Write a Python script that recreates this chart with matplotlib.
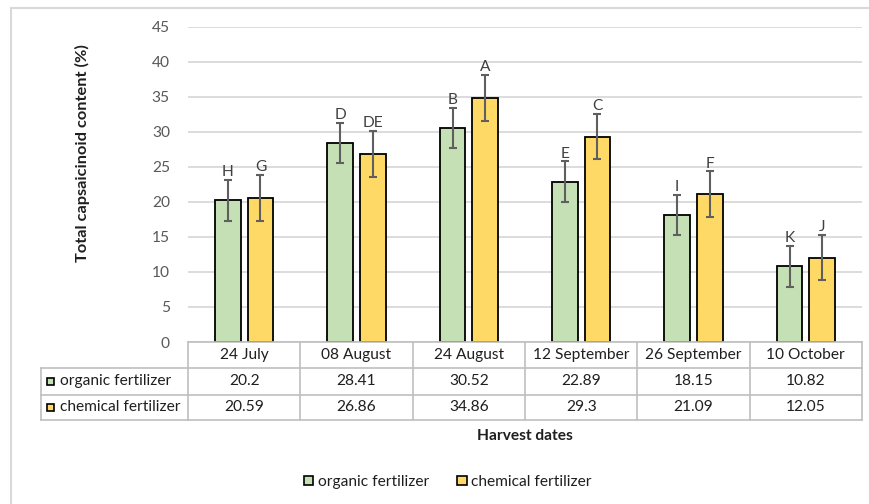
import matplotlib
matplotlib.use("Agg")
import matplotlib.pyplot as plt
from matplotlib.patches import Patch, Rectangle
from matplotlib.lines import Line2D
from matplotlib.transforms import blended_transform_factory

plt.rcParams['font.family'] = ['Lato', 'DejaVu Sans']

# Data
harvest_dates = ["24 July", "08 August", "24 August", "12 September", "26 September", "10 October"]
series_names = ["organic fertilizer", "chemical fertilizer"]
organic = [20.2, 28.41, 30.52, 22.89, 18.15, 10.82]
chemical = [20.59, 26.86, 34.86, 29.3, 21.09, 12.05]
organic_err = [2.9, 2.9, 2.9, 2.9, 2.9, 2.9]
chemical_err = [3.25, 3.25, 3.25, 3.25, 3.25, 3.25]
organic_letters = ["H", "D", "B", "E", "I", "K"]
chemical_letters = ["G", "DE", "A", "C", "F", "J"]
y_ticks = [0, 5, 10, 15, 20, 25, 30, 35, 40, 45]

green = "#C5E0B4"
yellow = "#FFD966"
grid_c = "#D9D9D9"
table_c = "#BFBFBF"
tick_c = "#595959"
text_c = "#1F1F1F"
fs = 11.2

W, H = 870, 504
fig = plt.figure(figsize=(W / 100, H / 100), dpi=100)

def fx(x):
    return x / W

def fy(y):
    return 1 - y / H

ax_left, ax_right, ax_top, ax_bottom = 188, 862, 26.7, 342
ax = fig.add_axes([fx(ax_left), fy(ax_bottom), fx(ax_right - ax_left), (ax_bottom - ax_top) / H])

x = list(range(len(harvest_dates)))
bw = 0.23
off = 0.145
xo = [i - off for i in x]
xc = [i + off for i in x]

ekw = dict(ecolor="#5F5F5F", elinewidth=1.5, capsize=2.7, capthick=1.5, zorder=4)
ax.bar(xo, organic, bw, color=green, edgecolor="black", linewidth=1.3,
       yerr=organic_err, error_kw=ekw, zorder=3)
ax.bar(xc, chemical, bw, color=yellow, edgecolor="black", linewidth=1.3,
       yerr=chemical_err, error_kw=ekw, zorder=3)

for xs, vals, errs, letters in [(xo, organic, organic_err, organic_letters),
                                 (xc, chemical, chemical_err, chemical_letters)]:
    for xi, v, e, t in zip(xs, vals, errs, letters):
        ax.annotate(t, (xi, v + e), xytext=(0, 0.5), textcoords="offset points",
                    ha="center", va="bottom", fontsize=fs, color="#404040", zorder=5)

ax.set_xlim(-0.5, len(harvest_dates) - 0.5)
ax.set_ylim(0, 45)
ax.set_yticks(y_ticks)
ax.set_xticks([])
ax.yaxis.grid(True, color=grid_c, linewidth=1.3)
ax.set_axisbelow(True)
for s in ax.spines.values():
    s.set_visible(False)
ax.tick_params(axis="y", length=0, pad=13, labelsize=fs, labelcolor=tick_c)

fig.text(fx(82), fy(153), "Total capsaicinoid content (%)", rotation=90,
         ha="center", va="center", fontsize=11.8, fontweight="bold", color=text_c)

# Data table under the plot
tr = blended_transform_factory(ax.transData, fig.transFigure)
row_y = [342, 368, 394.5, 420]
x0, x1 = -0.5, len(harvest_dates) - 0.5
label_left = 40.7

def hline(y, xa, xb, transform):
    fig.add_artist(Line2D([xa, xb], [fy(y), fy(y)], transform=transform,
                          color=table_c, linewidth=1.2, clip_on=False))

def vline(xv, ya, yb, transform):
    fig.add_artist(Line2D([xv, xv], [fy(ya), fy(yb)], transform=transform,
                          color=table_c, linewidth=1.2, clip_on=False))

hline(row_y[0], x0, x1, tr)
for y in row_y[1:]:
    hline(y, fx(label_left), fx(ax_left), fig.transFigure)
    hline(y, x0, x1, tr)
for k in range(len(harvest_dates) + 1):
    vline(x0 + k, row_y[0], row_y[3], tr)
vline(fx(label_left), row_y[1], row_y[3], fig.transFigure)

for i, d in enumerate(harvest_dates):
    fig.text(i, fy((row_y[0] + row_y[1]) / 2), d, transform=tr, ha="center",
             va="center", fontsize=fs, color=text_c)
    fig.text(i, fy((row_y[1] + row_y[2]) / 2), f"{organic[i]:g}", transform=tr,
             ha="center", va="center", fontsize=fs, color=text_c)
    fig.text(i, fy((row_y[2] + row_y[3]) / 2), f"{chemical[i]:g}", transform=tr,
             ha="center", va="center", fontsize=fs, color=text_c)

for r, (name, col) in enumerate(zip(series_names, [green, yellow])):
    yc = (row_y[1 + r] + row_y[2 + r]) / 2
    fig.add_artist(Rectangle((fx(47), fy(yc + 3.5)), fx(7), 7 / H, transform=fig.transFigure,
                             facecolor=col, edgecolor="black", linewidth=1.2))
    fig.text(fx(60), fy(yc), name, ha="left", va="center", fontsize=fs, color=text_c)

fig.text(fx((ax_left + ax_right) / 2), fy(436), "Harvest dates", ha="center", va="center",
         fontsize=fs, fontweight="bold", color=text_c)

handles = [Patch(facecolor=green, edgecolor="black", linewidth=1.2),
           Patch(facecolor=yellow, edgecolor="black", linewidth=1.2)]
fig.legend(handles, series_names, loc="center", bbox_to_anchor=(fx(448), fy(482)),
           ncol=2, frameon=False, fontsize=fs, handlelength=0.6, handleheight=0.6,
           handletextpad=0.3, columnspacing=1.8, labelcolor=text_c)

# Chart area border
fig.add_artist(Line2D([fx(11), fx(11)], [fy(8), 0], transform=fig.transFigure,
                      color=grid_c, linewidth=1.5))
fig.add_artist(Line2D([fx(11), 1], [fy(8), fy(8)], transform=fig.transFigure,
                      color=grid_c, linewidth=1.5))

fig.savefig("out.png", dpi=100, facecolor="white")
